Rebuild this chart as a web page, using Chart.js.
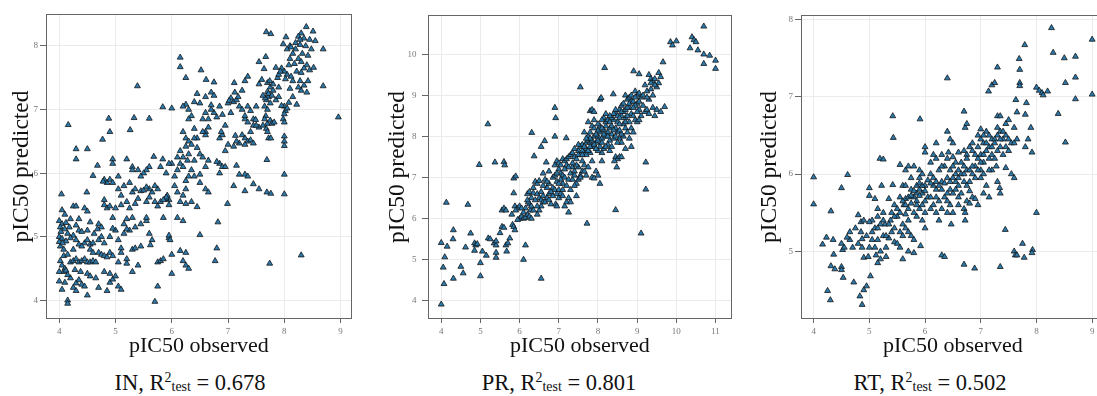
<!DOCTYPE html>
<html><head><meta charset="utf-8">
<script src="https://cdn.jsdelivr.net/npm/chart.js@4.4.1/dist/chart.umd.min.js"></script>
<style>
html,body{margin:0;padding:0;background:#fff;width:1097px;height:396px;overflow:hidden;position:relative}
canvas{position:absolute;top:0}
.cap{position:absolute;top:372px;width:240px;text-align:center;font-family:'Liberation Serif','Times New Roman',serif;font-size:22.5px;line-height:22px;color:#111;white-space:nowrap}
.cap sup{font-size:0.62em;line-height:0;vertical-align:0.55em}
.cap sub{font-size:0.62em;line-height:0;vertical-align:-0.08em}
</style></head>
<body>
<canvas id="c1" width="356" height="365" style="left:0px"></canvas>
<canvas id="c2" width="356" height="365" style="left:380px"></canvas>
<canvas id="c3" width="357" height="365" style="left:752px"></canvas>
<div id="cap1" class="cap" style="left:70px"></div>
<div id="cap2" class="cap" style="left:439px"></div>
<div id="cap3" class="cap" style="left:810px"></div>
<script>
// ---- labels ----
const panelNames = ['IN', 'PR', 'RT'];
const r2Test = ['0.678', '0.801', '0.502'];
const xTitle = 'pIC50 observed';
const yTitle = 'pIC50 predicted';
const inXTicks = [4, 5, 6, 7, 8, 9];
const inYTicks = [4, 5, 6, 7, 8];
const prXTicks = [4, 5, 6, 7, 8, 9, 10, 11];
const prYTicks = [4, 5, 6, 7, 8, 9, 10];
const rtXTicks = [4, 5, 6, 7, 8, 9];
const rtYTicks = [5, 6, 7, 8];

// ---- data: [observed, predicted] ----
const inPoints = [
[8.39,8.30],[8.51,8.23],[8.30,8.20],[8.25,8.15],[8.35,8.12],[8.45,8.10],[8.55,8.08],[8.03,8.14],[7.98,8.03],[8.10,8.00],[8.20,7.95],[8.15,7.88],[8.25,7.80],[8.30,7.75],[8.05,7.95],[8.10,7.80],[8.40,7.70],[8.35,7.65],[8.45,7.62],[8.69,7.95],[8.52,7.66],[8.69,7.37],[8.28,7.45],[8.30,7.30],[8.40,7.27],[8.25,7.35],[8.10,7.33],[8.15,7.45],[8.05,7.55],[8.00,7.60],[7.95,7.65],[8.08,7.11],[8.22,7.08],[8.20,8.05],[8.28,8.02],[8.38,8.00],[8.18,7.72],[8.32,7.88],[8.42,7.85],[8.08,7.70],[8.22,7.60],[8.12,7.52],[8.48,7.95],[8.28,8.10],[8.12,7.98],[7.88,7.50],[8.02,7.48],[8.30,7.58],[8.42,7.45],[8.15,7.20],[8.35,7.38],
[7.68,8.22],[7.76,8.19],[7.67,7.83],[7.55,7.75],[7.64,7.64],[7.70,7.42],[7.75,7.35],[7.60,7.47],[7.55,7.40],[7.70,7.28],[7.72,7.20],[7.68,7.15],[7.75,7.10],[7.65,7.05],[7.70,7.00],[7.80,7.30],[7.85,7.15],[7.90,7.35],[7.85,7.66],[7.90,7.55],[7.80,7.40],[7.67,6.90],[7.65,6.85],[7.70,6.78],[7.75,6.83],[7.78,6.78],[7.82,6.80],[7.68,6.70],[7.70,6.65],[7.72,6.55],[7.76,6.55],[7.55,6.72],[7.62,6.75],[7.69,6.21],[7.69,5.70],[7.76,5.68],[7.74,4.58],[8.30,4.71],[8.96,6.88],[7.72,7.25],[7.66,7.18],[7.74,7.45],[7.62,7.22],[7.78,7.22],
[8.00,7.05],[8.02,6.98],[8.00,6.93],[7.98,6.85],[8.00,6.80],[8.00,6.58],[8.00,6.50],[8.00,6.43],[8.00,5.98],[8.00,5.67],[7.95,7.06],[8.05,7.02],[7.93,7.60],[7.90,7.20],
[7.35,7.52],[7.30,7.45],[7.11,7.42],[7.05,7.18],[7.00,7.10],[7.10,7.12],[7.15,7.15],[7.20,7.05],[7.25,7.00],[7.12,7.27],[7.18,7.20],[7.02,7.14],[7.30,6.85],[7.35,6.80],[7.30,6.90],[7.45,6.85],[7.45,6.75],[7.50,6.75],[7.40,6.98],[7.35,7.05],[7.49,6.84],[7.30,6.55],[7.35,6.50],[7.40,6.52],[7.45,6.47],[7.30,6.45],[7.20,6.47],[7.10,6.42],[7.15,6.50],[7.13,6.59],[6.95,6.35],[7.00,6.45],[6.75,6.95],[6.80,6.88],[6.90,6.92],[6.85,7.05],[6.70,7.00],[6.60,6.95],[6.65,6.85],[6.70,7.07],[6.60,6.65],[6.65,6.72],[6.60,6.60],[6.55,6.65],[6.85,6.55],[6.90,6.60],[6.88,6.65],[6.85,6.15],[6.90,6.10],[6.95,6.10],[6.80,6.18],[6.85,6.00],[6.65,6.20],[6.60,6.10],[7.15,6.12],[7.20,5.98],[7.30,5.98],[7.35,5.95],[7.45,5.83],[7.55,5.75],[7.30,5.72],[7.10,5.80],[6.99,5.52],[6.60,5.75],[6.65,5.70],[6.50,5.85],[6.82,5.23],[6.80,4.82],[6.77,4.62],[6.50,5.03],[7.25,7.30],[7.05,6.95],[6.95,6.75],[7.50,7.05],[7.40,6.65],[7.25,6.60],
[6.15,7.82],[6.15,7.67],[6.25,7.50],[6.52,7.62],[6.61,7.47],[6.75,7.43],[6.45,7.25],[6.50,7.10],[6.60,7.20],[6.70,7.27],[6.75,7.22],[6.40,7.12],[6.25,7.08],[6.30,7.00],[6.20,7.05],[6.35,6.90],[6.30,6.85],[6.00,7.02],[5.84,7.04],[6.20,6.65],[6.25,6.55],[6.30,6.50],[6.15,6.35],[6.20,6.25],[6.30,6.30],[6.25,6.42],[6.28,6.20],[6.15,6.15],[6.45,6.55],[6.45,6.40],[6.50,6.30],[6.55,6.25],[6.40,6.20],[6.35,6.05],[6.40,5.95],[6.30,5.95],[6.50,5.98],[6.25,5.88],[6.20,6.10],[6.10,6.05],[6.05,5.95],[6.00,6.15],[6.25,5.75],[6.20,5.65],[6.15,5.55],[6.25,5.52],[6.35,5.55],[6.45,5.47],[6.05,5.80],[6.10,5.70],[5.95,5.58],[5.90,5.60],[5.95,5.50],[5.92,5.65],[5.84,6.22],[5.90,6.00],[5.80,6.10],[5.95,6.15],[5.75,5.75],[5.70,5.80],[5.65,5.70],[5.60,5.75],[5.55,5.55],[5.60,5.62],[5.68,6.26],[5.60,6.10],[5.55,6.05],[5.50,6.00],[5.45,5.95],[5.40,6.05],[5.39,7.37],[5.33,6.87],[5.60,6.86],[5.26,6.68],[4.88,6.86],[4.90,6.65],[4.77,6.53],[4.16,6.76],[4.30,6.38],[4.30,6.22],[4.50,6.38],[4.60,5.96],[4.68,6.12],[4.95,6.22],[4.95,6.15],[5.20,6.22],[5.30,6.10],[5.30,6.05],[4.80,5.90],[4.85,5.85],[4.90,5.90],[4.95,5.85],[5.05,5.95],[5.15,5.80],[5.05,5.75],[4.78,5.87],[5.25,5.85],[5.30,5.70],[5.35,5.75],[5.45,5.72],[5.50,5.73],[5.55,5.78],[5.40,5.60],[5.35,5.52],[5.10,5.65],[5.20,5.55],[5.10,5.50],[5.25,5.45],[5.30,5.30],[5.20,5.28],[5.15,5.20],[5.00,5.45],[4.80,5.58],[4.80,5.50],[4.85,5.45],[4.90,5.48],[4.95,5.30],[4.70,5.20],[4.75,5.15],[4.49,5.70],[4.25,5.48],[4.30,5.48],[4.45,5.45],[4.50,5.40],[4.35,5.28],[6.55,6.85],[6.40,6.70],[6.35,6.45],[6.10,6.25],[6.40,6.55],
[4.04,5.67],[4.05,5.42],[4.10,5.35],[4.00,5.25],[4.05,5.20],[4.02,5.15],[4.10,5.12],[4.00,5.00],[4.05,4.97],[4.00,4.92],[4.02,4.85],[4.08,4.80],[4.12,4.93],[4.15,5.05],[4.20,5.28],[4.30,5.18],[4.35,5.10],[4.40,5.08],[4.50,5.10],[4.55,5.23],[4.25,5.02],[4.20,4.98],[4.30,4.95],[4.35,4.88],[4.45,4.90],[4.50,4.95],[4.55,4.88],[4.55,4.80],[4.60,4.75],[4.02,4.62],[4.05,4.55],[4.10,4.50],[4.08,4.45],[4.12,4.47],[4.00,4.45],[4.20,4.60],[4.25,4.62],[4.30,4.65],[4.35,4.60],[4.40,4.62],[4.45,4.65],[4.50,4.60],[4.55,4.60],[4.60,4.62],[4.65,4.60],[4.00,4.30],[4.05,4.17],[4.10,4.28],[4.20,4.35],[4.25,4.20],[4.30,4.15],[4.30,4.27],[4.35,4.32],[4.40,4.25],[4.45,4.22],[4.50,4.08],[4.15,4.00],[4.15,3.95],[4.50,4.42],[4.55,4.38],[4.65,4.35],[4.70,4.20],[4.80,4.45],[4.90,4.42],[4.90,4.28],[4.85,4.15],[4.95,4.33],[5.00,4.38],[5.05,4.22],[5.10,4.17],[4.70,4.75],[4.75,4.72],[4.80,4.70],[4.85,4.68],[4.90,4.75],[4.95,4.70],[4.75,5.00],[4.90,5.00],[4.80,4.90],[5.00,5.10],[4.95,5.13],[5.05,4.95],[5.10,4.82],[5.10,4.75],[5.20,4.65],[5.20,4.58],[5.05,4.60],[5.30,4.80],[5.35,4.82],[5.45,4.85],[5.40,4.55],[5.30,4.45],[5.25,5.10],[5.35,5.15],[5.45,5.20],[5.55,5.25],[5.55,5.30],[5.60,5.05],[5.65,4.95],[5.62,4.87],[5.70,5.55],[5.75,5.48],[5.80,5.55],[5.85,5.30],[5.90,5.62],[5.85,5.58],[5.75,4.60],[5.80,4.62],[5.85,4.65],[5.75,4.22],[5.70,3.98],[5.95,4.98],[5.95,5.02],[5.97,4.95],[6.00,4.72],[6.00,4.42],[6.10,5.30],[6.20,5.25],[6.15,4.78],[6.20,4.62],[6.25,4.55],[6.30,4.50],[6.25,4.75],[4.12,5.22],[4.18,5.15],[4.08,4.70],[4.15,4.72],[4.25,4.80],[4.40,4.85],[4.62,5.05],[4.68,5.12],[4.15,4.40],[4.28,4.48],[4.38,4.45],[4.60,4.90],[4.70,4.95],[5.15,5.05],[5.20,5.12],[4.03,5.08],[4.06,4.90]
];

const prPoints = [
[4.00,3.91],[4.07,4.41],[4.05,4.81],[4.09,5.06],[4.00,5.41],[4.15,5.32],[4.13,6.39],[4.31,5.72],[4.30,5.50],[4.31,4.54],[4.50,4.83],[4.56,4.67],[4.62,5.30],[4.68,6.34],[4.75,5.64],[4.85,5.40],[4.88,5.35],[4.85,5.22],[4.92,5.38],[4.97,7.31],[5.00,4.92],[5.00,4.60],[5.05,5.20],[5.15,5.10],[5.20,5.52],[5.25,5.50],[5.19,8.30],[5.35,5.40],[5.40,5.35],[5.40,5.45],[5.37,7.37],[5.40,5.17],[5.40,5.05],[5.50,5.65],[5.55,5.80],[5.60,5.78],[5.55,6.20],[5.60,6.25],[5.65,6.20],[5.60,7.38],[5.62,7.30],[5.65,5.35],[5.70,5.40],[5.67,5.20],[5.75,5.52],[5.82,5.85],[5.85,5.80],[5.88,5.72],[5.80,6.10],[5.85,6.62],[5.85,6.98],[5.90,7.03],[5.88,6.30],[6.00,6.00],[5.95,5.97],[6.05,6.05],[6.10,6.00],[6.15,6.02],[5.95,6.25],[6.00,6.30],[5.90,6.20],[6.10,5.00],[6.15,5.35],[6.20,6.10],[6.25,6.05],[6.30,6.00],[6.20,6.60],[6.25,6.65],[6.30,6.50],[6.25,6.35],[6.28,6.20],[6.35,6.62],[6.30,6.30],[6.22,6.40],[6.31,8.09],[6.37,7.52],[6.40,6.90],[6.45,6.85],[6.50,6.92],[6.45,6.60],[6.50,6.50],[6.55,6.45],[6.60,6.55],[6.50,6.20],[6.45,6.10],[6.55,6.30],[6.60,6.40],[6.55,7.75],[6.64,7.89],[6.55,4.54],[6.60,7.10],[6.65,6.95],[6.70,6.75],[6.75,6.60],[6.70,6.50],[6.65,6.40],[6.75,6.45],[6.80,6.35],[6.68,7.37],[6.75,7.15],[6.90,8.70],[6.92,8.45],[6.90,8.00],[6.90,7.30],[6.95,7.40],[7.00,7.35],[6.85,7.00],[6.90,7.05],[6.95,6.90],[6.85,6.75],[6.90,6.70],[6.95,6.60],[7.00,6.50],[6.92,6.35],[6.95,6.30],[7.05,7.10],[7.10,7.05],[7.00,7.20],[7.05,7.30],[7.10,7.45],[7.15,7.40],[7.20,7.45],[7.25,7.50],[7.20,7.30],[7.15,7.00],[7.10,6.85],[7.20,6.80],[7.25,6.95],[7.05,6.60],[7.10,6.55],[7.20,6.40],[7.25,6.15],[7.15,6.30],[7.19,7.96],[7.30,7.55],[7.35,7.60],[7.40,7.50],[7.35,7.25],[7.30,7.10],[7.40,7.15],[7.35,6.95],[7.45,6.85],[7.30,6.70],[7.45,6.55],[7.40,7.05],[7.50,7.65],[7.55,7.75],[7.60,7.80],[7.55,7.55],[7.50,7.25],[7.60,7.40],[7.65,7.60],[7.65,7.30],[7.60,7.15],[7.55,7.05],[7.70,7.05],[7.55,9.20],[7.72,5.88],[7.70,7.85],[7.75,7.90],[7.80,7.85],[7.70,7.70],[7.80,7.60],[7.85,7.75],[7.75,8.00],[7.80,8.10],[7.75,8.35],[7.80,8.62],[7.85,8.65],[7.90,8.60],[7.90,8.40],[7.85,8.25],[7.90,8.00],[7.95,7.85],[7.85,7.40],[7.95,7.15],[7.85,7.00],[7.90,6.98],[8.00,8.00],[8.05,8.10],[8.00,7.90],[8.10,7.95],[8.05,7.75],[8.10,7.60],[8.00,7.65],[8.15,7.70],[8.00,7.05],[8.05,6.85],[8.10,7.40],[8.05,8.90],[8.08,8.94],[8.17,9.67],[8.15,8.45],[8.20,8.25],[8.25,8.10],[8.30,8.20],[8.20,8.00],[8.30,7.90],[8.35,8.05],[8.25,7.80],[8.30,7.65],[8.15,8.15],[8.39,9.03],[8.45,8.55],[8.40,8.40],[8.50,8.35],[8.45,8.20],[8.50,8.10],[8.40,7.95],[8.55,7.95],[8.45,7.50],[8.50,7.45],[8.42,7.40],[8.48,7.25],[8.55,7.50],[8.60,7.50],[8.45,6.21],[8.55,8.65],[8.60,8.75],[8.65,8.60],[8.60,8.50],[8.70,8.45],[8.65,8.30],[8.55,8.30],[8.70,8.20],[8.65,8.00],[8.60,7.85],[8.70,7.70],[8.75,8.10],[8.70,9.00],[8.75,8.90],[8.80,8.95],[8.85,8.85],[8.80,8.70],[8.85,8.55],[8.90,8.50],[8.80,8.35],[8.85,8.20],[8.80,7.95],[8.85,7.75],[8.90,8.10],[8.91,9.59],[9.05,9.52],[8.95,9.10],[9.00,9.00],[9.05,9.05],[9.10,8.95],[9.00,8.80],[9.05,8.65],[9.10,8.50],[8.95,8.40],[9.00,8.35],[9.05,8.40],[9.10,5.64],[9.22,6.71],[9.22,7.37],[9.20,9.25],[9.25,9.10],[9.30,8.90],[9.20,8.60],[9.25,8.65],[9.30,8.55],[9.15,9.00],[9.30,9.50],[9.35,9.40],[9.40,9.35],[9.45,9.40],[9.35,9.30],[9.55,9.55],[9.60,9.45],[9.55,9.30],[9.50,9.20],[9.40,8.70],[9.45,8.50],[9.50,8.65],[9.60,8.60],[9.70,8.72],[9.66,9.81],[9.85,10.30],[9.90,10.22],[10.00,10.32],[10.35,10.15],[10.40,10.42],[10.45,10.35],[10.50,10.30],[10.55,10.10],[10.70,10.68],[10.70,10.00],[10.70,9.77],[10.85,9.97],[11.00,9.85],[11.00,9.65],
[7.45,7.45],[7.50,7.55],[7.60,7.65],[7.65,7.75],[7.70,7.55],[7.75,7.65],[7.80,7.75],[7.85,7.90],[7.90,7.80],[7.95,8.05],[8.00,8.15],[8.05,8.25],[8.10,8.20],[8.15,8.05],[8.20,8.35],[8.25,8.40],[8.30,8.35],[8.35,8.45],[8.40,8.55],[8.45,8.65],[8.50,8.50],[8.55,8.45],[8.60,8.60],[8.65,8.80],[8.70,8.65],[8.75,8.70],[8.80,8.80],[8.85,9.00],[8.90,8.85],[8.95,8.75],[9.00,8.60],[9.05,8.85],[8.35,8.25],[8.25,8.00],[8.10,7.85],[7.95,7.70],[7.80,7.95],[7.70,7.95],[7.60,7.55],[7.45,7.30],[7.35,7.35],[7.25,7.25],[7.15,7.20],[7.05,6.95],[7.00,6.85],[6.95,7.10],[7.00,6.70],[6.85,6.55],[6.80,6.65],[6.75,6.85],[7.10,6.70],[7.25,6.50],[7.30,6.40],[7.40,6.80],[7.50,6.95],[7.55,7.00],[7.65,7.15],[7.75,7.25],[8.20,7.75],[8.35,7.75],[8.50,7.85],[8.60,8.05],[8.70,8.35],[8.75,8.50],[8.90,8.70],[8.95,8.95],[8.55,8.15],[8.45,8.00],[8.40,8.15],[8.30,8.50],[8.20,8.55],[8.10,8.40],[8.00,8.30],[7.90,8.20],[7.65,8.10],[7.50,7.80],[7.40,7.70],[9.15,8.75],[9.25,8.95],[9.35,9.15],[9.45,9.25],[9.40,9.00],[6.40,6.45],[6.35,6.20],[6.45,6.30],[6.55,6.65],[6.60,6.80],[6.70,6.90],[6.35,6.75],[6.20,6.45],[6.15,6.25],[6.10,6.15],[6.05,6.25]
];

const rtPoints = [
[4.00,5.96],[4.00,5.61],[4.16,5.09],[4.23,5.18],[4.31,5.52],[4.35,5.15],[4.36,4.96],[4.31,4.81],[4.38,4.77],[4.25,4.49],[4.30,4.37],[4.50,4.80],[4.50,4.76],[4.53,4.66],[4.50,5.10],[4.52,5.02],[4.50,5.82],[4.61,5.99],[4.65,5.25],[4.65,5.15],[4.70,5.05],[4.72,4.60],[4.80,5.47],[4.85,5.25],[4.85,5.38],[4.90,5.40],[4.87,5.16],[4.87,5.05],[4.90,4.92],[4.83,4.42],[4.87,4.31],[4.90,4.50],[4.95,4.55],[5.02,4.68],[5.00,5.82],[5.00,5.72],[5.05,5.40],[5.00,5.38],[5.05,5.15],[4.98,4.93],[5.10,5.68],[5.15,5.45],[5.10,5.30],[5.10,5.05],[5.12,4.95],[5.15,4.85],[5.20,4.90],[5.20,5.00],[5.15,5.15],[5.19,6.20],[5.25,6.19],[5.22,5.85],[5.25,5.50],[5.28,5.35],[5.25,5.20],[5.30,5.05],[5.30,4.93],[5.42,6.75],[5.43,6.47],[5.35,5.68],[5.38,5.40],[5.40,5.25],[5.35,5.17],[5.45,5.30],[5.45,5.12],[5.42,5.86],[5.50,5.45],[5.55,5.50],[5.55,5.25],[5.50,5.10],[5.55,5.05],[5.60,5.20],[5.60,4.90],[5.55,6.12],[5.60,5.85],[5.65,5.68],[5.62,5.60],[5.65,5.48],[5.70,5.55],[5.65,6.05],[5.70,6.10],[5.75,5.95],[5.80,6.10],[5.75,5.80],[5.80,5.70],[5.75,5.62],[5.85,5.65],[5.70,5.25],[5.75,5.20],[5.80,5.15],[5.70,5.00],[5.80,4.98],[5.91,6.71],[5.85,5.75],[5.90,5.80],[5.95,5.75],[5.90,5.55],[5.95,5.60],[6.00,5.50],[5.85,5.45],[5.95,5.40],[5.90,5.95],[5.95,6.00],[6.00,6.35],[6.00,6.28],[6.00,5.85],[6.05,5.70],[6.00,5.30],[5.92,5.07],[6.10,6.00],[6.15,5.85],[6.10,5.70],[6.20,5.80],[6.15,5.60],[6.20,5.50],[6.25,5.65],[6.20,6.20],[6.15,6.25],[6.20,6.40],[6.30,6.25],[6.25,6.05],[6.30,5.90],[6.35,5.70],[6.30,5.55],[6.30,4.95],[6.35,4.93],[6.40,7.24],[6.40,6.55],[6.45,6.45],[6.42,6.28],[6.40,6.20],[6.45,6.05],[6.40,5.95],[6.45,5.80],[6.50,5.75],[6.45,5.60],[6.40,5.50],[6.50,5.50],[6.47,5.35],[6.50,6.22],[6.55,6.00],[6.55,5.90],[6.60,6.05],[6.60,5.85],[6.65,5.75],[6.60,5.60],[6.55,6.15],[6.70,6.81],[6.72,6.60],[6.75,6.65],[6.70,6.30],[6.75,6.25],[6.70,6.10],[6.75,6.05],[6.70,5.90],[6.75,5.65],[6.70,5.55],[6.72,5.40],[6.72,5.50],[6.70,4.83],[6.89,4.78],[6.80,6.35],[6.85,6.30],[6.80,6.05],[6.85,6.00],[6.80,5.90],[6.85,5.70],[6.80,5.62],[6.90,5.68],[6.95,5.60],[6.90,6.10],[6.95,6.20],[6.95,6.50],[7.00,6.58],[7.00,6.45],[7.05,6.40],[7.00,6.25],[7.05,6.15],[7.00,6.05],[7.05,6.00],[7.00,5.95],[7.10,5.85],[7.05,5.75],[7.15,5.70],[7.10,6.55],[7.15,6.50],[7.20,6.45],[7.15,6.35],[7.20,6.25],[7.25,6.20],[7.20,6.05],[7.30,5.90],[7.28,6.10],[7.14,7.07],[7.20,7.15],[7.25,7.18],[7.30,7.38],[7.30,6.75],[7.35,6.75],[7.30,6.60],[7.35,6.55],[7.30,6.50],[7.40,6.45],[7.35,6.35],[7.40,6.25],[7.34,5.82],[7.35,5.75],[7.35,4.80],[7.44,5.28],[7.45,6.65],[7.50,6.70],[7.45,6.50],[7.50,6.45],[7.55,6.40],[7.50,6.30],[7.55,6.00],[7.60,5.95],[7.45,6.08],[7.63,6.96],[7.65,6.80],[7.60,6.60],[7.65,6.45],[7.60,6.40],[7.60,5.00],[7.62,4.95],[7.65,4.95],[7.69,7.49],[7.70,7.35],[7.70,7.18],[7.70,7.14],[7.75,5.10],[7.78,4.92],[7.79,7.67],[7.82,6.92],[7.80,6.77],[7.80,6.35],[7.85,6.45],[7.90,6.60],[7.92,6.28],[7.93,5.02],[7.92,4.98],[8.00,5.50],[8.00,7.12],[8.05,7.08],[8.10,7.05],[8.12,7.02],[8.20,7.07],[8.27,7.89],[8.30,7.57],[8.39,6.78],[8.50,7.50],[8.52,7.18],[8.52,6.41],[8.70,7.52],[8.70,7.25],[8.70,6.97],[9.00,7.74],[9.00,7.03],
[5.60,5.65],[5.65,5.60],[5.70,5.70],[5.75,5.72],[5.80,5.78],[5.85,5.85],[5.90,5.72],[5.95,5.85],[6.00,5.78],[6.05,5.92],[6.10,5.88],[6.15,5.95],[6.20,5.90],[6.25,5.85],[6.30,5.80],[6.35,5.88],[6.40,5.75],[6.45,5.90],[6.50,5.95],[6.55,5.80],[6.60,5.95],[6.65,6.00],[6.70,6.00],[6.75,5.85],[6.80,5.78],[6.85,6.10],[6.90,6.25],[6.95,6.05],[7.00,6.15],[7.05,6.25],[7.10,6.30],[7.15,6.20],[7.20,6.35],[7.25,6.45],[7.30,6.30],[7.35,6.45],[5.50,5.55],[5.45,5.45],[5.40,5.50],[5.35,5.35],[5.30,5.20],[5.25,5.40],[5.20,5.35],[5.15,5.30],[5.05,5.25],[5.00,5.05],[5.60,5.35],[5.65,5.30],[5.85,5.60],[5.80,5.50],[5.65,5.85],[5.70,5.40],[6.10,5.55],[6.25,5.40],[6.35,6.10],[6.50,6.10],[6.65,6.15],[6.85,6.40],[7.05,6.50],[7.15,6.05],[7.25,6.40],[7.40,6.55],[7.45,6.35],[6.60,6.28],[6.50,6.40],[6.30,6.10],[6.10,6.15],[5.90,6.05],[5.55,5.70],[5.45,5.60],[5.15,5.55],[4.95,5.20],[4.80,5.10],[4.75,5.30],[4.60,5.18],[4.55,5.05],[6.95,6.35],[7.10,6.40],[6.90,5.95],[6.75,6.20],[6.60,5.70],[6.40,5.65],[6.20,5.70],[6.00,5.65],[5.90,5.88]
];

// ---- rendering ----
const SERIF = "'Liberation Serif', 'Times New Roman', serif";

const frame = {
  id: 'frame',
  afterDatasetsDraw(chart) {
    const {ctx, chartArea: a} = chart;
    ctx.save();
    ctx.strokeStyle = '#666';
    ctx.lineWidth = 1;
    ctx.strokeRect(Math.round(a.left) + 0.5, Math.round(a.top) + 0.5,
                   Math.round(a.right - a.left) - 1, Math.round(a.bottom - a.top) - 1);
    ctx.restore();
  }
};

function makeChart(id, pts, o) {
  return new Chart(document.getElementById(id), {
    type: 'scatter',
    data: {
      datasets: [{
        data: pts.map(p => ({x: p[0], y: p[1]})),
        pointStyle: 'triangle',
        pointRadius: 3.4,
        pointHoverRadius: 3.4,
        backgroundColor: '#2a7aad',
        borderColor: '#141414',
        borderWidth: 0.8
      }]
    },
    options: {
      responsive: false,
      animation: false,
      devicePixelRatio: 1,
      events: [],
      layout: {padding: {top: o.top, right: 3, bottom: 0, left: 0}},
      plugins: {legend: {display: false}, tooltip: {enabled: false}},
      scales: {
        x: {
          type: 'linear', position: 'bottom', min: o.xmin, max: o.xmax,
          afterBuildTicks: s => { s.ticks = o.xticks.map(v => ({value: v})); },
          afterFit: s => { s.height = 46; s.paddingLeft = 0; s.paddingRight = 0; },
          ticks: {font: {family: SERIF, size: 9}, color: '#777', padding: 3, maxRotation: 0, autoSkip: false},
          grid: {color: '#ebebeb', lineWidth: 1, tickLength: 4, tickColor: '#666', drawTicks: true},
          border: {display: false},
          title: {display: true, text: xTitle, color: '#111',
                  font: {family: SERIF, size: 22, lineHeight: 1.2}, padding: {top: 0, bottom: 5.8}}
        },
        y: {
          type: 'linear', position: 'left', min: o.ymin, max: o.ymax,
          afterBuildTicks: s => { s.ticks = o.yticks.map(v => ({value: v})); },
          afterFit: s => { s.width = o.yw; s.paddingTop = 0; s.paddingBottom = 0; },
          ticks: {font: {family: SERIF, size: 9}, color: '#777', padding: o.ypad, autoSkip: false},
          grid: {color: '#ebebeb', lineWidth: 1, tickLength: 6, tickColor: '#666', drawTicks: true},
          border: {display: false},
          title: {display: true, text: yTitle, color: '#111',
                  font: {family: SERIF, size: 23.5, lineHeight: 1.2}, padding: {top: o.ytp, bottom: 0}}
        }
      }
    },
    plugins: [frame]
  });
}

makeChart('c1', inPoints, {top: 14, xmin: 3.765, xmax: 9.199, ymin: 3.707, ymax: 8.503,
  xticks: inXTicks, yticks: inYTicks, yw: 46, ypad: 2, ytp: 7.9});
makeChart('c2', prPoints, {top: 15, xmin: 3.662, xmax: 11.415, ymin: 3.554, ymax: 10.957,
  xticks: prXTicks, yticks: prYTicks, yw: 48, ypad: 5.5, ytp: 4.1});
makeChart('c3', rtPoints, {top: 15, xmin: 3.773, xmax: 9.227, ymin: 4.125, ymax: 8.057,
  xticks: rtXTicks, yticks: rtYTicks, yw: 49, ypad: 2, ytp: 3.5});

['cap1', 'cap2', 'cap3'].forEach((id, i) => {
  document.getElementById(id).innerHTML =
    panelNames[i] + ', R<sup>2</sup><sub>test</sub> = ' + r2Test[i];
});
</script>
</body></html>
